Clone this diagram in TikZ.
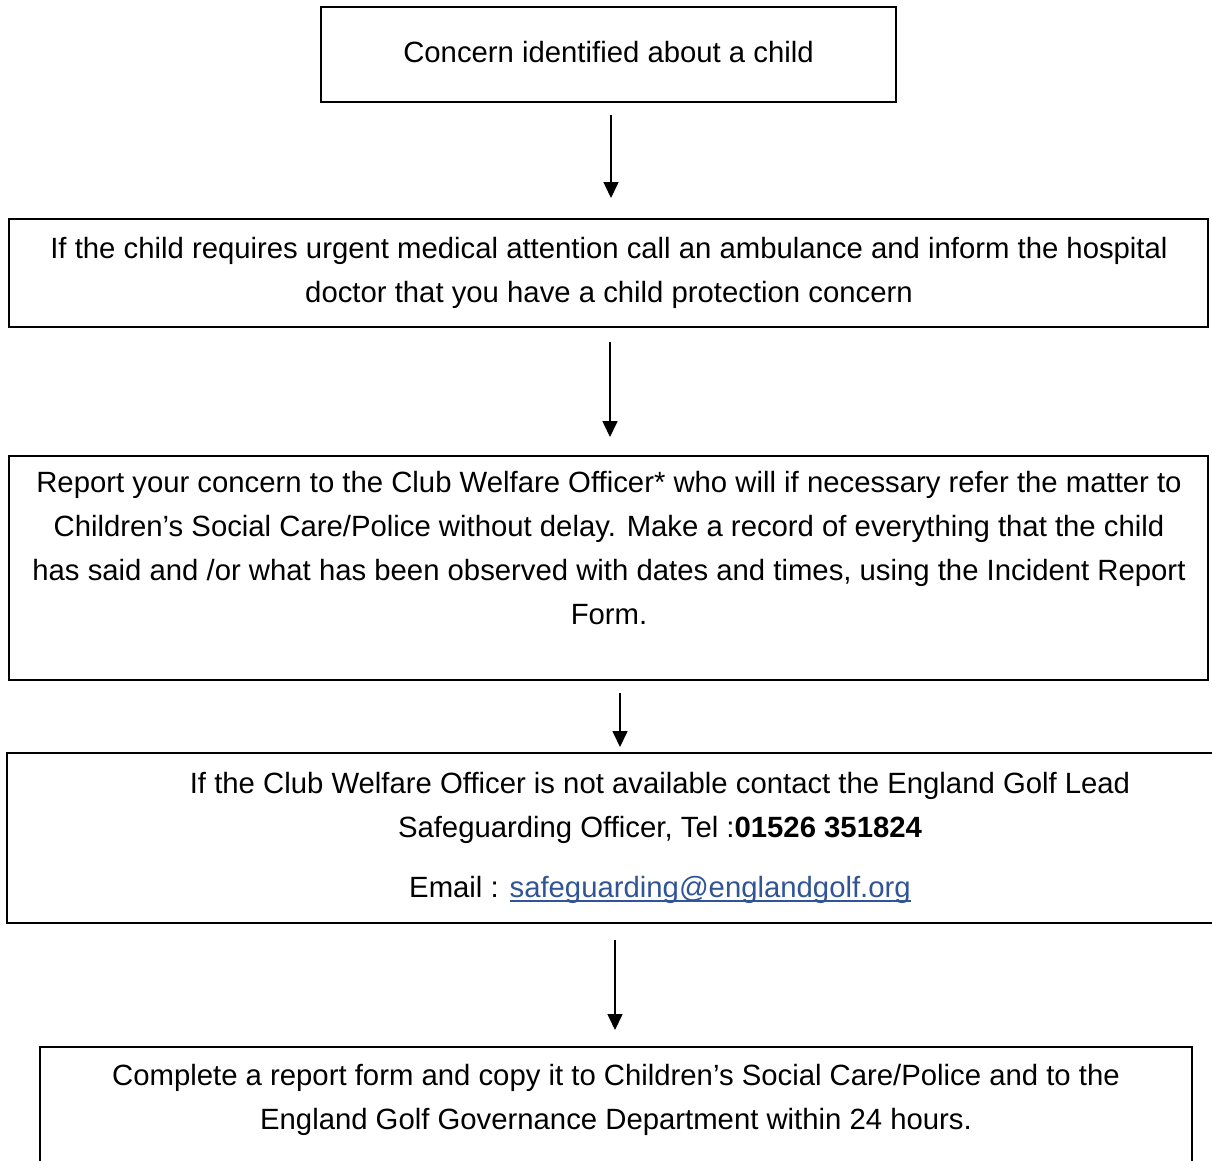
\documentclass[tikz,border=0pt]{standalone}
\usepackage{fontspec}
\setmainfont{Liberation Sans}
\usetikzlibrary{arrows.meta,calc}
\definecolor{linkblue}{RGB}{47,85,151}
\newcommand\linkul[1]{\setbox0\hbox{#1}\rlap{\rule[-5pt]{\wd0}{2pt}}\box0}
\begin{document}
\begin{tikzpicture}[x=1pt,y=-1pt,
  box/.style={draw,line width=2.5pt,rectangle,inner sep=0pt,outer sep=0pt},
  txt/.style={align=center,inner sep=0pt,font=\fontsize{29.3}{44}\selectfont},
  arr/.style={line width=1.6pt,-{Triangle[width=15pt,length=16pt]}}]
\clip (0,0) rectangle (1212,1160);
% boxes
\node[box,minimum width=575pt,minimum height=95pt] (b1) at (608.5,54.5) {};
\node[box,minimum width=1199pt,minimum height=108pt] (b2) at (608.5,273) {};
\node[box,minimum width=1199pt,minimum height=224pt] (b3) at (608.5,568) {};
\node[box,minimum width=1313pt,minimum height=170pt] (b4) at (663.5,838) {};
\node[box,minimum width=1152pt,minimum height=150pt] (b5) at (616,1122) {};
% texts
\node[txt] (t1) at (608.5,52) {Concern identified about a child};
\node[txt] (t2) at (609,273) {If the child requires urgent medical attention call an ambulance and inform the hospital\\doctor that you have a child protection concern};
\node[txt] (t3) at (609,548) {Report your concern to the Club Welfare Officer* who will if necessary refer the matter to\\Children’s Social Care/Police without delay. Make a record of everything that the child\\has said and /or what has been observed with dates and times, using the Incident Report\\Form.};
\node[txt] (t4) at (660,837.5) {If the Club Welfare Officer is not available contact the England Golf Lead\\Safeguarding Officer, Tel :\textbf{01526 351824}\\[16pt]Email : {\color{linkblue}\linkul{safeguarding@englandgolf.org}}};
\node[txt] (t5) at (616,1100) {Complete a report form and copy it to Children’s Social Care/Police and to the\\England Golf Governance Department within 24 hours.};
% arrows
\draw[arr] ($(b1.south)+(2.5,13)$) -- ($(b2.north)+(2.5,-21)$);
\draw[arr] ($(b2.south)+(1.5,15)$) -- ($(b3.north)+(1.5,-19)$);
\draw[arr] ($(b3.south)+(11.5,13)$) -- ($(b4.north)+(-43.5,-6)$);
\draw[arr] ($(b4.south)+(-48.5,17)$) -- ($(b5.north)+(-1,-17)$);
\end{tikzpicture}
\end{document}
